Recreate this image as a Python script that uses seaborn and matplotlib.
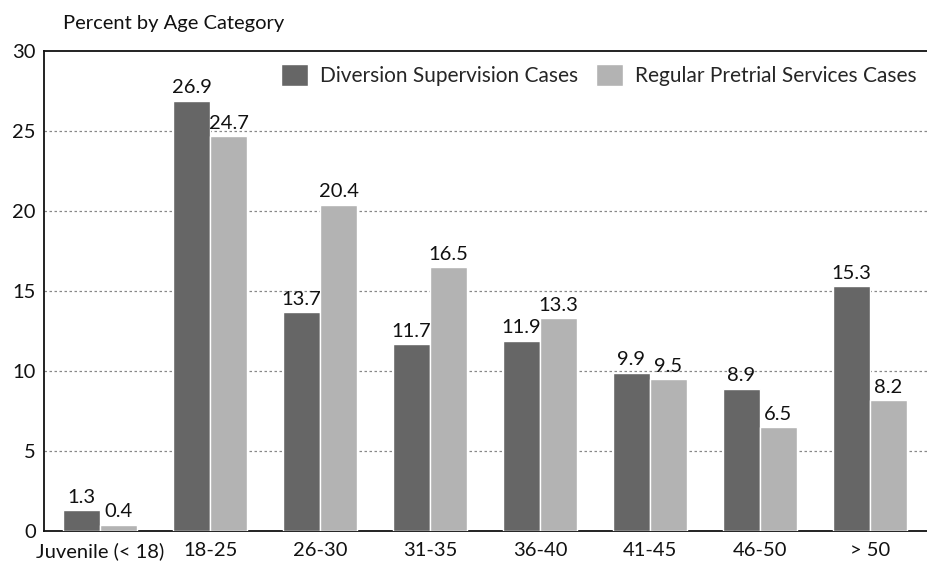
import matplotlib
matplotlib.use("Agg")
import matplotlib.pyplot as plt
import seaborn as sns
import pandas as pd

categories = ["Juvenile (< 18)", "18-25", "26-30", "31-35", "36-40", "41-45", "46-50", "> 50"]
diversion = [1.3, 26.9, 13.7, 11.7, 11.9, 9.9, 8.9, 15.3]
regular = [0.4, 24.7, 20.4, 16.5, 13.3, 9.5, 6.5, 8.2]
series_names = ["Diversion Supervision Cases", "Regular Pretrial Services Cases"]
y_ticks = [0, 5, 10, 15, 20, 25, 30]

df = pd.DataFrame({
    "Age": categories * 2,
    "Percent": diversion + regular,
    "Series": [series_names[0]] * len(categories) + [series_names[1]] * len(categories),
})

sns.set_style("white")
plt.rcParams["font.family"] = ["Lato", "DejaVu Sans"]

fig = plt.figure(figsize=(9.27, 5.67), dpi=100)
ax = fig.add_axes([0.0475, 0.0635, 0.9525, 0.8466])

palette = {series_names[0]: "#666666", series_names[1]: "#b3b3b3"}
sns.barplot(data=df, x="Age", y="Percent", hue="Series", palette=palette,
            width=0.673, saturation=1, ax=ax, errorbar=None, zorder=3)

ax.set_ylim(0, 30)
ax.set_xlim(-0.51, 7.52)
ax.set_yticks(y_ticks)
ax.set_yticklabels([str(t) for t in y_ticks], fontsize=14.5, color="#111111")
ax.tick_params(axis="x", labelsize=14.5, length=0, pad=8, colors="#111111")
ax.tick_params(axis="y", length=0, pad=6)
ax.set_xlabel("")
ax.set_ylabel("")

for y in y_ticks[1:-1]:
    ax.axhline(y, color="#888888", linestyle=(0, (2, 2)), linewidth=0.9, zorder=1)

for spine in ["left", "bottom", "top"]:
    ax.spines[spine].set_visible(True)
    ax.spines[spine].set_color("#111111")
    ax.spines[spine].set_linewidth(1.3)
ax.spines["right"].set_visible(False)

for container in ax.containers:
    ax.bar_label(container, labels=[f"{v:.1f}" for v in container.datavalues],
                 fontsize=14.5, padding=3, color="#111111")

leg = ax.legend(loc="upper right", frameon=False, fontsize=15, ncol=2,
                handlelength=1.3, handleheight=1.3, handletextpad=0.55,
                columnspacing=0.9, borderaxespad=0.1, bbox_to_anchor=(1.0, 0.995))

fig.text(0.068, 0.958, "Percent by Age Category", fontsize=14.5, color="#111111",
         ha="left", va="center")

fig.savefig("out.png", dpi=100)
